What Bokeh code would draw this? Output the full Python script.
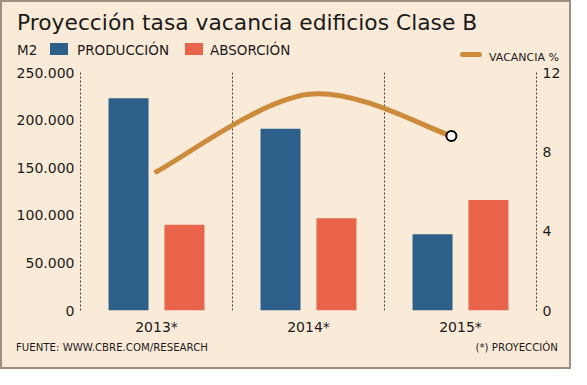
from bokeh.plotting import figure
from bokeh.layouts import column
from bokeh.models import Range1d, LinearAxis, FixedTicker, Div
from bokeh.embed import file_html
from bokeh.resources import INLINE

# ---------------- data ----------------
categories = ["2013*", "2014*", "2015*"]
produccion = [223000, 191000, 80000]
absorcion = [90000, 97000, 116000]
vacancia = [7.0, 10.9, 8.8]
m2_ticks = [0, 50000, 100000, 150000, 200000, 250000]
m2_tick_labels = ["0", "50.000", "100.000", "150.000", "200.000", "250.000"]
vac_ticks = [0, 4, 8, 12]
vac_tick_labels = ["0", "4", "8", "12"]

TITLE = "Proyección tasa vacancia edificios Clase B"
UNIT = "M2"
SERIES = ["PRODUCCIÓN", "ABSORCIÓN"]
LINE_NAME = "VACANCIA %"
SOURCE = "FUENTE: WWW.CBRE.COM/RESEARCH"
NOTE = "(*) PROYECCIÓN"

# ---------------- style ----------------
FONT = "DejaVu Sans"
BG = "#FAEBD9"
BLUE = "#2D5F8B"
ORANGE = "#E9644A"
GOLD = "#CB8B3B"
AXC = "#3a3a3a"
TXT = "#1a1a1a"
BORDER = "#A08E82"

ORIGIN = 10            # content origin inside the page (8px margin + 2px border)
W = 567
HEAD_BOTTOM, MAIN_BOTTOM, FOOT_BOTTOM = 70, 345, 375   # page px
F_LEFT, F_RIGHT, F_TOP, F_BOTTOM = 88, 544, 80, 319    # main frame, page px
ASC = 0.846            # baseline offset (em) for line-height:1 in DejaVu Sans

BAR_OFF = 0.184
BAR_W = 0.263
VAC_DX = [0.0, 0.0, -0.06]


def txt_span(text, left, baseline, size, right=None):
    top = baseline - ASC * size
    pos = ("right:%.1fpx;" % right) if right is not None else ("left:%.1fpx;" % left)
    return ('<span style="position:absolute;%stop:%.1fpx;font-size:%.1fpx;'
            'line-height:1;white-space:nowrap;">%s</span>' % (pos, top, size, text))


def box_span(left, top, w, h, color, radius=0):
    return ('<span style="position:absolute;left:%.1fpx;top:%.1fpx;width:%.1fpx;'
            'height:%.1fpx;background:%s;border-radius:%.1fpx;"></span>'
            % (left, top, w, h, color, radius))


def wrap(inner, height):
    return ('<div style="position:relative;width:%dpx;height:%dpx;overflow:visible;'
            'font-family:\'%s\';color:%s;">%s</div>' % (W, height, FONT, TXT, inner))


# ---------------- header: title + legend row ----------------
HH = HEAD_BOTTOM - ORIGIN
o = ORIGIN
head_html = "".join([
    txt_span(TITLE, 25 - o, 38 - o, 21.8),
    txt_span(UNIT, 25 - o, 63 - o, 13.5),
    box_span(58 - o, 51 - o, 18, 12, BLUE),
    txt_span(SERIES[0], 85 - o, 63 - o, 13.5),
    box_span(193 - o, 51 - o, 18, 12, ORANGE),
    txt_span(SERIES[1], 218 - o, 63 - o, 13.5),
    box_span(468 - o, 59.5 - o, 22, 5, GOLD, 2.5),
    txt_span(LINE_NAME, 497 - o, 69 - o, 11),
])
head = Div(text=wrap(head_html, HH), width=W, height=HH, margin=0,
           styles={"background-color": BG})

# ---------------- main chart ----------------
MH = MAIN_BOTTOM - HEAD_BOTTOM
p = figure(width=W, height=MH, output_backend="svg", toolbar_location=None,
           x_range=Range1d(0, len(categories)), y_range=Range1d(0, 250000),
           min_border_left=F_LEFT - ORIGIN,
           min_border_right=W - (F_RIGHT - ORIGIN),
           min_border_top=F_TOP - HEAD_BOTTOM,
           min_border_bottom=MAIN_BOTTOM - F_BOTTOM,
           background_fill_color=BG, border_fill_color=BG, outline_line_color=None)
p.title_location = None
p.extra_y_ranges = {"vac": Range1d(0, 12)}

xc = [i + 0.5 for i in range(len(categories))]
xp = [x - BAR_OFF for x in xc]
xa = [x + BAR_OFF for x in xc]

p.vbar(x=xp, top=produccion, bottom=0, width=BAR_W, fill_color=BLUE, line_color=None)
p.vbar(x=xa, top=absorcion, bottom=0, width=BAR_W, fill_color=ORANGE, line_color=None)

# smooth curve (Catmull-Rom -> cubic Bezier segments) through the vacancy points
vx = [xc[i] + VAC_DX[i] for i in range(len(vacancia))]
pts = list(zip(vx, vacancia))
n = len(pts)
bx0, by0, bx1, by1, bcx0, bcy0, bcx1, bcy1 = ([] for _ in range(8))
for i in range(n - 1):
    pm = pts[max(i - 1, 0)]
    p0 = pts[i]
    p1 = pts[i + 1]
    p2 = pts[min(i + 2, n - 1)]
    bx0.append(p0[0]); by0.append(p0[1])
    bx1.append(p1[0]); by1.append(p1[1])
    bcx0.append(p0[0] + (p1[0] - pm[0]) / 6.0)
    bcy0.append(p0[1] + (p1[1] - pm[1]) / 6.0)
    bcx1.append(p1[0] - (p2[0] - p0[0]) / 6.0)
    bcy1.append(p1[1] - (p2[1] - p0[1]) / 6.0)

p.bezier(x0=bx0, y0=by0, x1=bx1, y1=by1, cx0=bcx0, cy0=bcy0,
         cx1=bcx1, cy1=bcy1, line_color=GOLD, line_width=5,
         line_cap="round", y_range_name="vac")
p.scatter(x=vx[-1:], y=vacancia[-1:], marker="circle", size=10,
          fill_color="white", line_color="black", line_width=2,
          y_range_name="vac")


def style_axis(ax, standoff):
    ax.major_tick_line_color = None
    ax.minor_tick_line_color = None
    ax.major_tick_out = 0
    ax.major_tick_in = 0
    ax.minor_tick_out = 0
    ax.minor_tick_in = 0
    ax.major_label_standoff = standoff
    ax.major_label_text_font = FONT
    ax.major_label_text_font_size = "14px"
    ax.major_label_text_color = TXT


yl = p.yaxis[0]
yl.ticker = FixedTicker(ticks=m2_ticks)
yl.major_label_overrides = {t: l for t, l in zip(m2_ticks, m2_tick_labels)}
style_axis(yl, 6)
yl.axis_line_color = AXC
yl.axis_line_dash = "2 2"

yr = LinearAxis(y_range_name="vac", ticker=FixedTicker(ticks=vac_ticks))
yr.major_label_overrides = {t: l for t, l in zip(vac_ticks, vac_tick_labels)}
style_axis(yr, 6)
yr.axis_line_color = AXC
yr.axis_line_dash = "2 2"
p.add_layout(yr, "right")

xax = p.xaxis[0]
xax.ticker = FixedTicker(ticks=xc)
xax.major_label_overrides = {x: c for x, c in zip(xc, categories)}
style_axis(xax, 8)
xax.axis_line_color = None

p.xgrid.ticker = FixedTicker(ticks=[1, 2])
p.xgrid.grid_line_color = AXC
p.xgrid.grid_line_dash = "2 2"
p.ygrid.grid_line_color = None

# ---------------- footer ----------------
FH = FOOT_BOTTOM - MAIN_BOTTOM
m = MAIN_BOTTOM
foot_html = "".join([
    txt_span(SOURCE, 24 - o, 360 - m, 10.2),
    txt_span(NOTE, 0, 360 - m, 10.2, right=W - (566 - o)),
])
foot = Div(text=wrap(foot_html, FH), width=W, height=FH, margin=0,
           styles={"background-color": BG})

layout = column(head, p, foot, spacing=0,
                styles={"border": "2px solid " + BORDER, "background-color": BG})

open("out.html", "w").write(file_html(layout, INLINE))
